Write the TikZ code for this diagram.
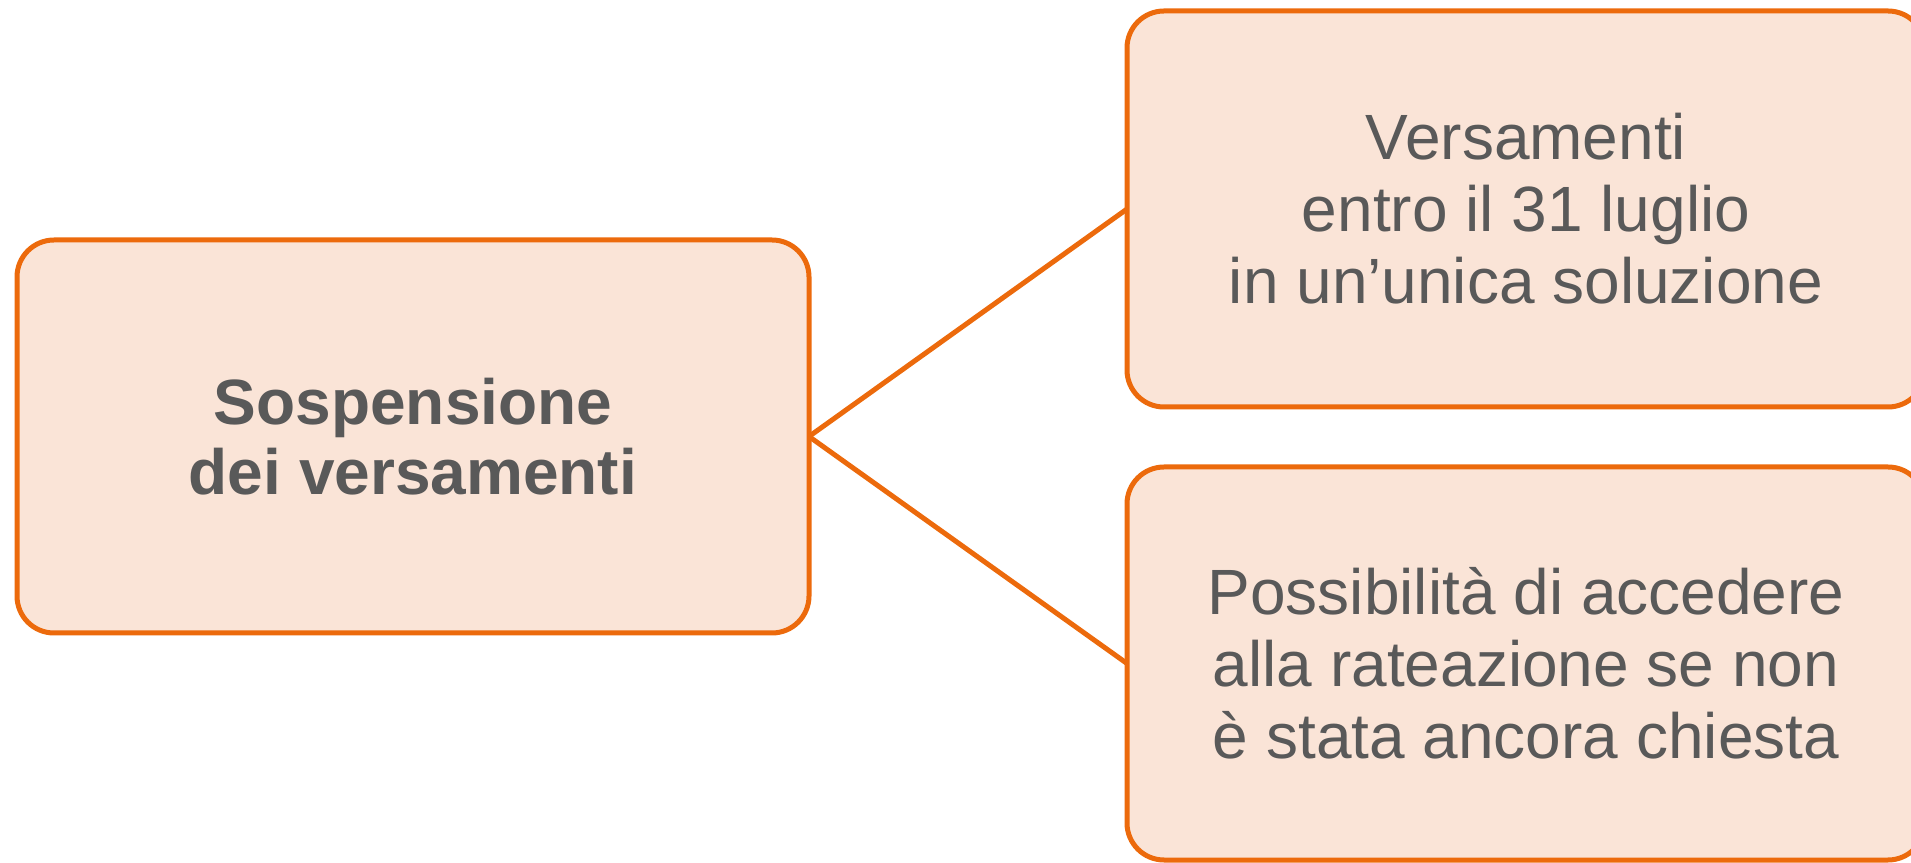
\documentclass[tikz,border=0pt]{standalone}
\usepackage{fontspec}
\setmainfont{Liberation Sans}
\definecolor{boxline}{HTML}{EC6A0C}
\definecolor{boxfill}{HTML}{FAE4D7}
\definecolor{boxtext}{HTML}{595959}
\begin{document}
\begin{tikzpicture}[x=1pt,y=1pt,
  card/.style={draw=boxline, fill=boxfill, line width=5pt, rounded corners=37pt,
    outer sep=0pt, inner sep=0pt, align=center, text=boxtext,
    font=\fontsize{64}{72}\selectfont},
  link/.style={draw=boxline, line width=5pt}]
\useasboundingbox (0,0) rectangle (1911,862);
\clip (0,0) rectangle (1911,862);
\node[card, minimum width=792pt, minimum height=393pt,
  font=\bfseries\fontsize{64}{70}\selectfont] (main) at (413,425.5)
  {Sospensione\\dei versamenti};
\node[card, minimum width=798pt, minimum height=396pt] (top) at (1526,653)
  {Versamenti\\entro il 31 luglio\\in un’unica soluzione};
\node[card, minimum width=798pt, minimum height=393pt] (bottom) at (1526,198.5)
  {Possibilità di accedere\\alla rateazione se non\\è stata ancora chiesta};
\draw[link] (main.east) -- (top.west);
\draw[link] (main.east) -- (bottom.west);
\end{tikzpicture}
\end{document}
